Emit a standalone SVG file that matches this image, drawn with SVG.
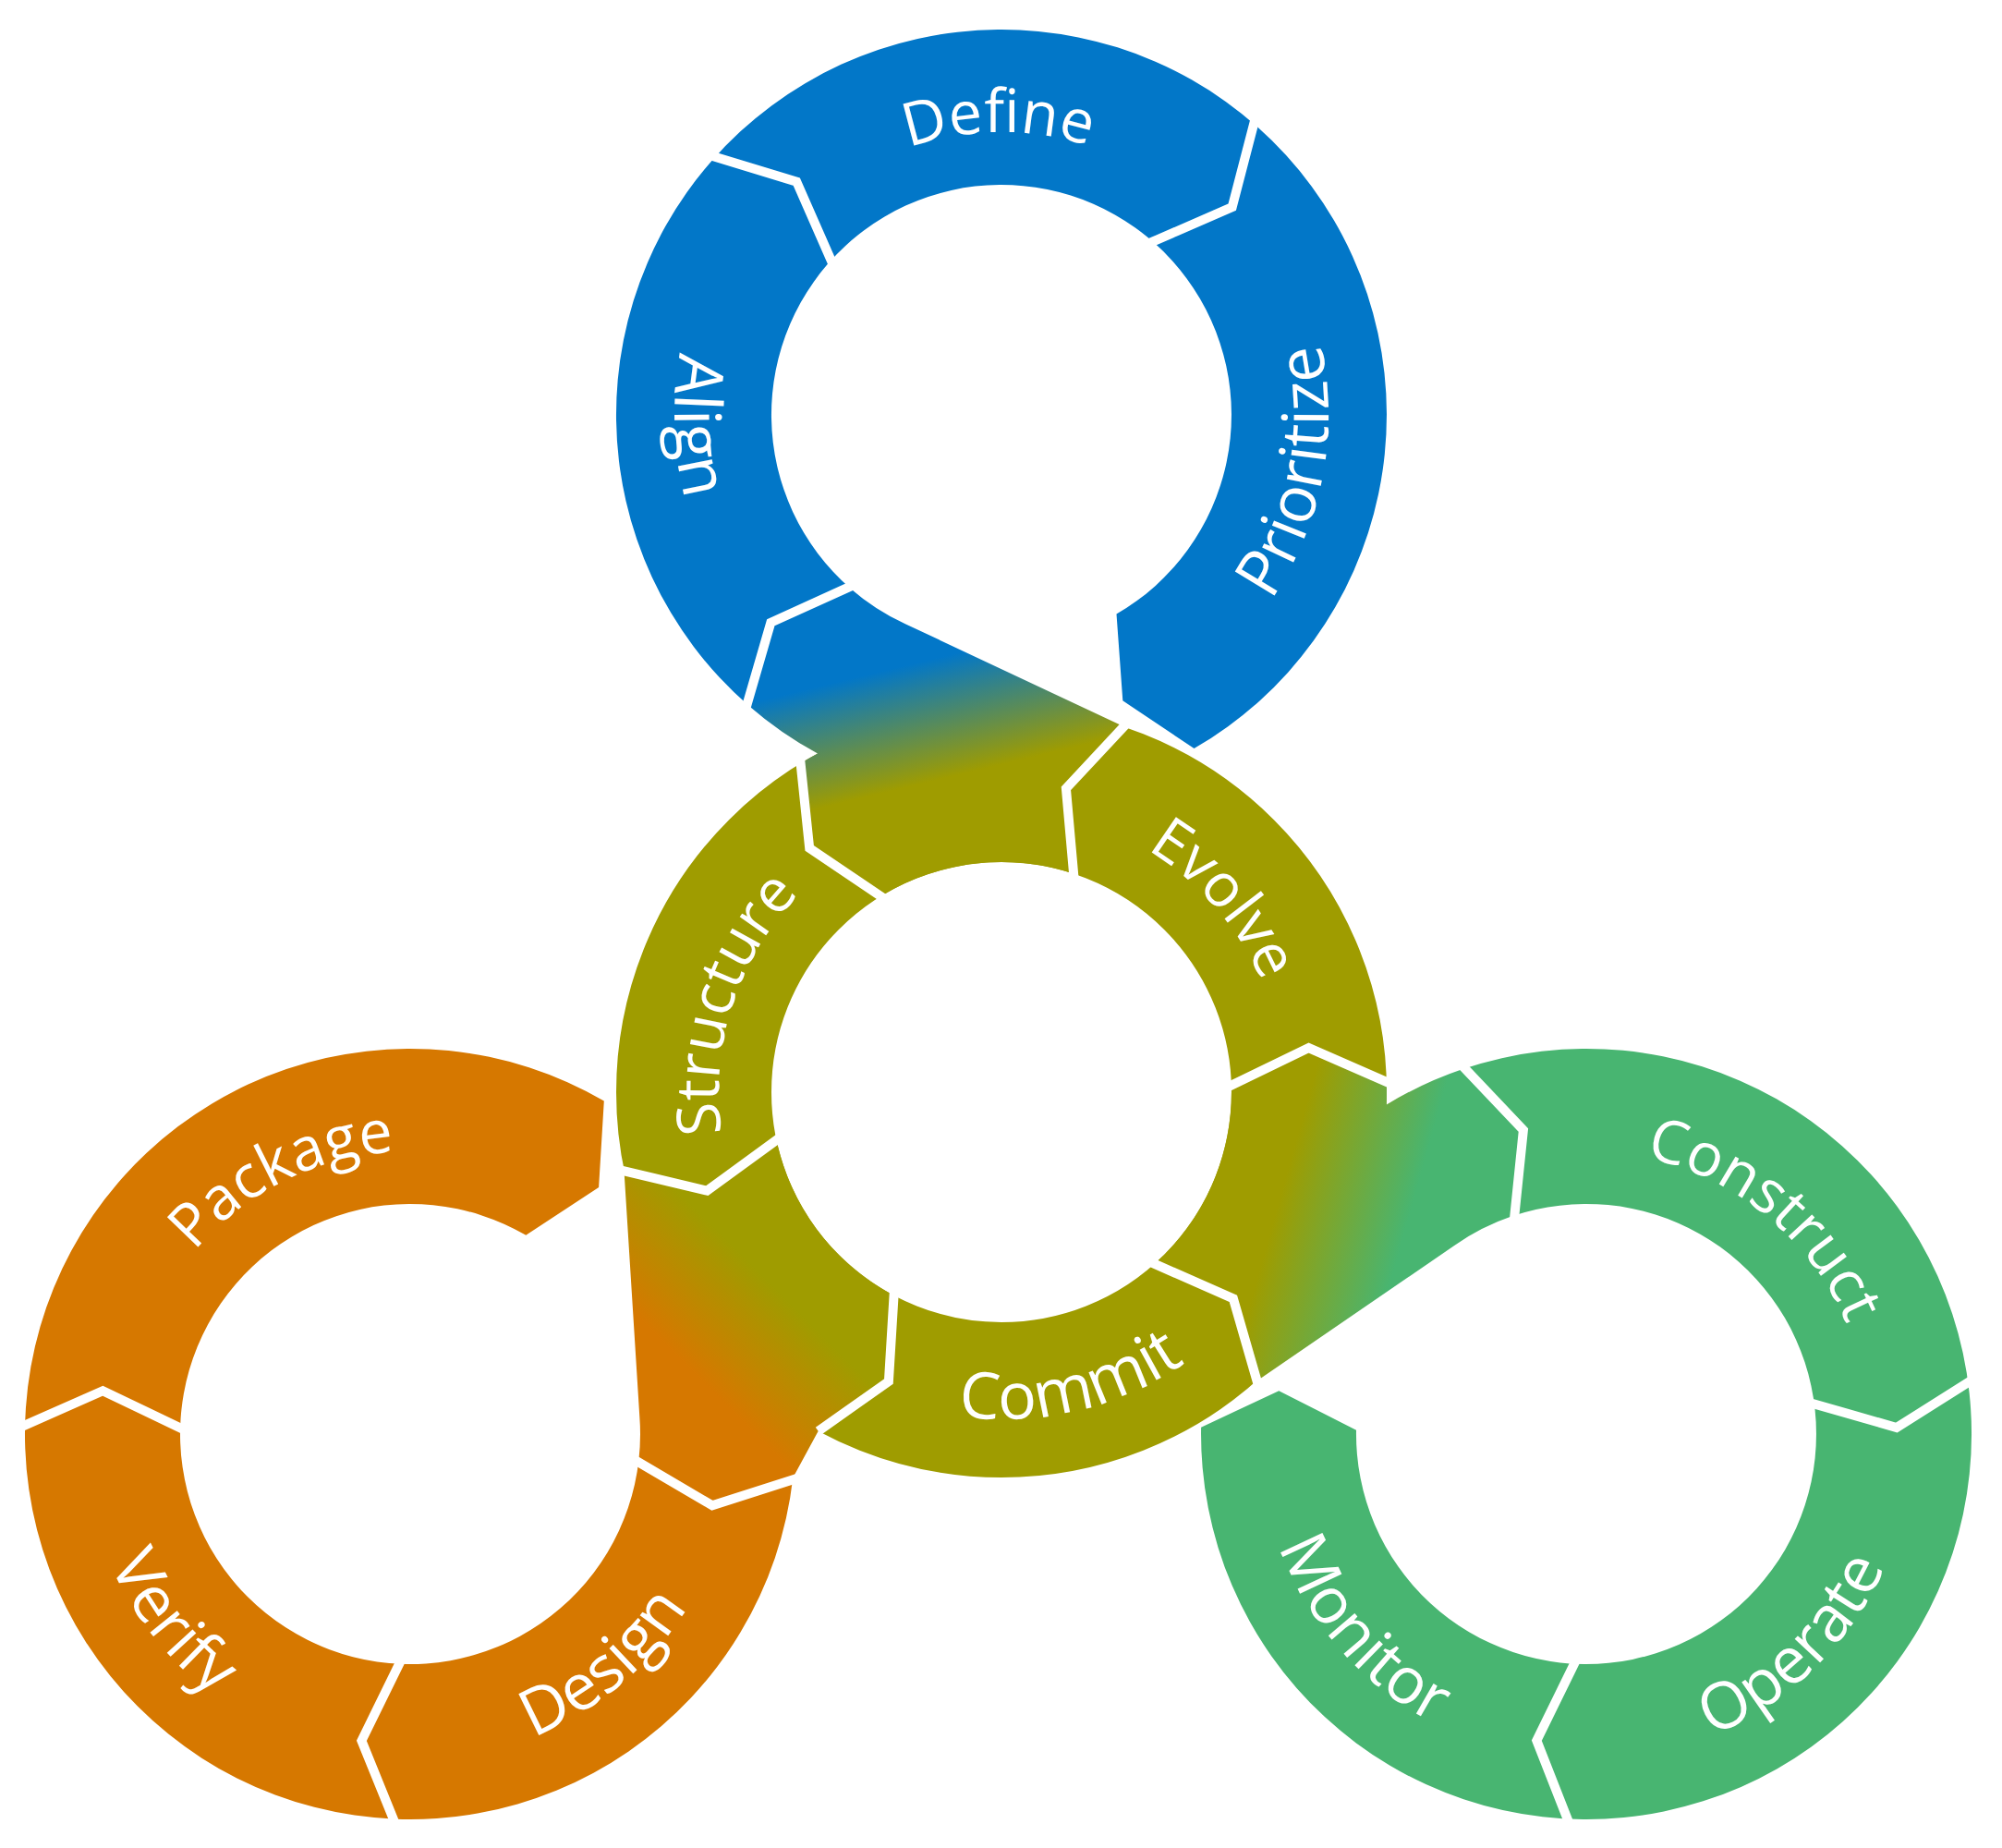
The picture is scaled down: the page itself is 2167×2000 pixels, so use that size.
<svg xmlns="http://www.w3.org/2000/svg" width="2167" height="2000" viewBox="0 0 2167 2000">
<defs>
<style>
.lbl{font-family:"Open Sans","Noto Sans","DejaVu Sans",sans-serif;font-size:65px;fill:#ffffff}
.lbl-in{font-family:"Open Sans","Noto Sans","DejaVu Sans",sans-serif;font-size:70px;fill:#ffffff}
.sep{fill:none;stroke:#ffffff;stroke-width:10;stroke-linejoin:miter;stroke-miterlimit:10}
</style>
<linearGradient id="gA" gradientUnits="userSpaceOnUse" x1="960" y1="725" x2="990" y2="850"><stop offset="0" stop-color="#0277C8"/><stop offset="1" stop-color="#9F9C00"/></linearGradient>
<linearGradient id="gB" gradientUnits="userSpaceOnUse" x1="1395" y1="1262" x2="1530" y2="1300"><stop offset="0" stop-color="#9F9C00"/><stop offset="1" stop-color="#48B571"/></linearGradient>
<linearGradient id="gC" gradientUnits="userSpaceOnUse" x1="740" y1="1475" x2="830" y2="1385"><stop offset="0" stop-color="#D67800"/><stop offset="1" stop-color="#9F9C00"/></linearGradient>
<path id="tDefine" d="M 817.4 298.8 A 306 306 0 0 1 1347.4 293.2"/>
<path id="tPrioritize" d="M 1199.3 783.7 A 354 354 0 0 0 1316.2 181.8"/>
<path id="tAlign" d="M 896.4 148.8 A 354 354 0 0 0 917.8 761.6"/>
<path id="tStructure" d="M 856.6 1386.8 A 306 306 0 0 1 1020.4 882.7"/>
<path id="tEvolve" d="M 1025.6 881.6 A 306 306 0 0 1 1373.3 1281.6"/>
<path id="tCommit" d="M 826.4 1424.8 A 354 354 0 0 0 1423.1 1283.7"/>
<path id="tPackage" d="M 138.6 1533.3 A 306 306 0 0 1 612.9 1296.8"/>
<path id="tVerify" d="M 115.1 1421.1 A 354 354 0 0 0 495.1 1902.3"/>
<path id="tDesign" d="M 322.9 1884.7 A 354 354 0 0 0 792.6 1490.5"/>
<path id="tConstruct" d="M 1610.3 1265.2 A 306 306 0 0 1 2018.7 1603.0"/>
<path id="tOperate" d="M 1621.2 1892.8 A 354 354 0 0 0 2060.0 1464.6"/>
<path id="tMonitor" d="M 1381.9 1437.9 A 354 354 0 0 0 1785.8 1899.3"/>
</defs>
<rect width="2167" height="2000" fill="#ffffff"/>

<g id="olive-ring">
<circle cx="1084" cy="1182" r="333" fill="none" stroke="#9F9C00" stroke-width="168"/>
</g>

<g id="blue-ring">
<path fill="#0277C8" d="M 810.4 763.7 A 417 417 0 1 1 1292.5 810.1 L 1215.3 758.3 L 1208.5 664.6 A 249 249 0 1 0 920.6 636.9 L 834.3 673.8 Z"/>
</g>

<g id="green-ring">
<path fill="#48B571" d="M 1583.3 1157.0 A 417 417 0 1 1 1300.1 1544.7 L 1384.3 1505.2 L 1468.0 1547.7 A 249 249 0 1 0 1637.2 1316.1 L 1648.9 1223.0 Z"/>
</g>

<g id="orange-ring">
<path fill="#D67800" d="M 858.3 1599.2 A 417 417 0 1 1 653.8 1191.6 L 648.1 1285.1 L 569.3 1336.8 A 249 249 0 1 0 691.4 1580.2 L 771.0 1629.3 Z"/>
</g>

<g id="junction-blue">
<path fill="url(#gA)" d="M 1218.4 787.3 L 1153.9 853.3 L 1164.3 946.3 A 249 249 0 0 0 955.4 968.8 L 876.2 917.9 L 868.6 824.9 A 417 417 0 0 1 885 815.5 A 417 417 0 0 1 810.4 763.7 L 834.3 673.8 L 920.6 636.9 A 249 249 0 0 0 979.9 675.2 Z"/>
</g>

<g id="junction-green">
<path fill="url(#gB)" d="M 1358.7 1495.7 L 1334.9 1405.5 L 1248.0 1369.3 A 249 249 0 0 0 1332.9 1176.8 L 1416.6 1134.1 L 1500.9 1173.3 A 417 417 0 0 1 1500.8 1195.5 A 417 417 0 0 1 1583.3 1157.0 L 1648.9 1223.0 L 1637.2 1316.1 A 249 249 0 0 0 1574.2 1348.0 Z"/>
</g>

<g id="junction-orange">
<path fill="url(#gC)" d="M 675.4 1265.1 L 765.4 1288.6 L 840.0 1231.6 A 249 249 0 0 0 965.6 1401.0 L 961.9 1495.0 L 885.7 1548.8 L 858.3 1599.2 L 771.0 1629.3 L 691.4 1580.2 A 249 249 0 0 0 692.3 1533.3 Z"/>
</g>

<g id="separators">
<path class="sep" d="M 807.1 767.5 L 834.3 673.8 L 923.9 633.1"/>
<path class="sep" d="M 768.9 168.3 L 862.2 196.6 L 901.8 286.7"/>
<path class="sep" d="M 1358.6 128.6 L 1333.7 224.2 L 1242.8 263.7"/>
<path class="sep" d="M 1581.7 1152.3 L 1648.9 1223.0 L 1638.8 1320.9"/>
<path class="sep" d="M 2134.9 1493.3 L 2052.9 1545.0 L 1958.6 1518.0"/>
<path class="sep" d="M 1698.6 1973.6 L 1663.3 1883.7 L 1706.4 1795.8"/>
<path class="sep" d="M 863.3 1599.8 L 771.0 1629.3 L 686.4 1579.6"/>
<path class="sep" d="M 22.1 1544.6 L 111.3 1505.2 L 200.0 1547.7"/>
<path class="sep" d="M 427.8 1973.7 L 391.4 1883.9 L 434.6 1795.8"/>
<path class="sep" d="M 1505.9 1173.2 L 1416.6 1134.1 L 1327.9 1176.9"/>
<path class="sep" d="M 1220.0 782.5 L 1153.9 853.3 L 1162.6 951.0"/>
<path class="sep" d="M 866.0 820.6 L 876.2 917.9 L 958.0 973.1"/>
<path class="sep" d="M 670.5 1266.1 L 765.4 1288.6 L 844.9 1230.6"/>
<path class="sep" d="M 885.7 1548.8 L 961.9 1495.0 L 967.9 1396.6"/>
<path class="sep" d="M 1362.0 1499.5 L 1334.9 1405.5 L 1244.7 1365.6"/>
</g>

<g id="labels">
<g id="label-define"><text class="lbl" text-anchor="middle"><textPath href="#tDefine" startOffset="50%">Define</textPath></text></g>
<g id="label-prioritize"><text class="lbl-in" text-anchor="middle"><textPath href="#tPrioritize" startOffset="50%">Prioritize</textPath></text></g>
<g id="label-align"><text class="lbl-in" text-anchor="middle"><textPath href="#tAlign" startOffset="50%">Align</textPath></text></g>
<g id="label-structure"><text class="lbl" text-anchor="middle"><textPath href="#tStructure" startOffset="50%">Structure</textPath></text></g>
<g id="label-evolve"><text class="lbl" text-anchor="middle"><textPath href="#tEvolve" startOffset="50%">Evolve</textPath></text></g>
<g id="label-commit"><text class="lbl-in" text-anchor="middle"><textPath href="#tCommit" startOffset="50%">Commit</textPath></text></g>
<g id="label-package"><text class="lbl" text-anchor="middle"><textPath href="#tPackage" startOffset="50%">Package</textPath></text></g>
<g id="label-verify"><text class="lbl-in" text-anchor="middle"><textPath href="#tVerify" startOffset="50%">Verify</textPath></text></g>
<g id="label-design"><text class="lbl-in" text-anchor="middle"><textPath href="#tDesign" startOffset="50%">Design</textPath></text></g>
<g id="label-construct"><text class="lbl" text-anchor="middle"><textPath href="#tConstruct" startOffset="50%">Construct</textPath></text></g>
<g id="label-operate"><text class="lbl-in" text-anchor="middle"><textPath href="#tOperate" startOffset="50%">Operate</textPath></text></g>
<g id="label-monitor"><text class="lbl-in" text-anchor="middle"><textPath href="#tMonitor" startOffset="50%">Monitor</textPath></text></g>
</g>
</svg>
